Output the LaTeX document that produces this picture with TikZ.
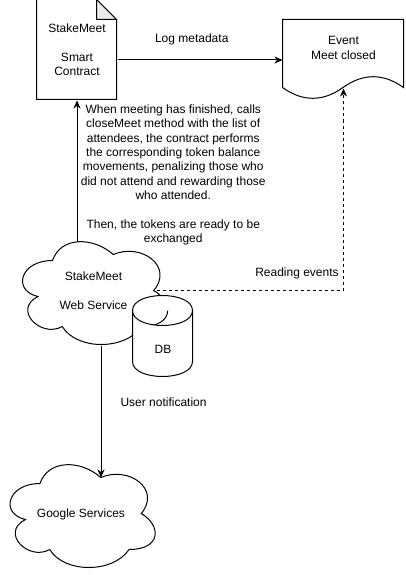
\documentclass[tikz,border=0pt]{standalone}
\usepackage{fontspec}
\setmainfont{Liberation Sans}
\usetikzlibrary{positioning,arrows.meta}

\begin{document}
\begin{tikzpicture}[x=1pt, y=-1pt, line width=1pt, >={Stealth[length=8pt,width=7pt,inset=2.5pt]},
        every node/.append style={font=\fontsize{12}{14.4}\selectfont}]
        \useasboundingbox (0,0) rectangle (405,575);

        % Nodes
        \node [minimum width=80pt, minimum height=100pt, align=center] (sc) at (77,50) {StakeMeet\\[14.4pt]Smart\\Contract};
        \node [minimum width=121pt, minimum height=80pt,
               label={[yshift=12pt, align=center]center:Event\\Meet closed}] (ev) at (343.5,60) {};
        \node [minimum width=162pt, minimum height=120pt, align=center] (ws) at (93.5,291) {StakeMeet\\[14.4pt]Web Service};
        \node [minimum width=162pt, minimum height=120pt] (gs) at (81,514) {Google Services};
        \node [minimum width=60pt, minimum height=81pt] (db) at (163,336.5) {};

        % Shapes
        \draw[shift={(sc.north west)}] (0,0) -- (60,0) -- (80,20) -- (80,100) -- (0,100) -- cycle;
        \draw[shift={(sc.north west)}, fill=black!8] (60,0) -- (60,20) -- (80,20) -- cycle;
        \draw[shift={(ev.north west)}] (0,0) -- (121,0) -- (121,68)
            .. controls (100.83,53.6) and (80.67,53.6) .. (60.5,68)
            .. controls (40.33,82.4) and (20.17,82.4) .. (0,68) -- cycle;
        \foreach \cl in {ws,gs}
            \draw[shift={(\cl.north west)}, xscale=162, yscale=120] (0.25,0.25)
                .. controls (0.05,0.25) and (0,0.5) .. (0.16,0.55)
                .. controls (0,0.66) and (0.18,0.9) .. (0.31,0.8)
                .. controls (0.4,1) and (0.7,1) .. (0.8,0.8)
                .. controls (1,0.8) and (1,0.6) .. (0.875,0.5)
                .. controls (1,0.3) and (0.8,0.1) .. (0.625,0.2)
                .. controls (0.5,0.05) and (0.3,0.05) .. (0.25,0.25) -- cycle;
        \draw[shift={(db.north west)}, fill=white] (0,15) .. controls (0,-5) and (60,-5) .. (60,15)
            -- (60,66) .. controls (60,86) and (0,86) .. (0,66) -- cycle
            (0,15) .. controls (0,35) and (60,35) .. (60,15);
        \node (dbl) at ([yshift=-12.5pt]db.center) {DB};

        % Arrows with labels
        \draw[->] ([yshift=-10pt]sc.east) -- node[pos=0.45, above=11pt] (logl) {Log metadata} (ev.west);
        \draw[->] ([xshift=-16.5pt, yshift=-11pt]ws.north) -- node[pos=0.472, right=0pt, align=center] (callsl)
            {When meeting has finished, calls\\closeMeet method with the list of\\attendees, the contract performs\\the corresponding token balance\\movements, penalizing those who\\did not attend and rewarding those\\who attended.\\[14.4pt]Then, the tokens are ready to be\\exchanged} (sc.south);
        \draw[->, dashed] ([xshift=-18pt, yshift=1pt]ws.east) -| node[pos=0.5, above left=7pt and 1pt] (readl) {Reading events} ([yshift=12pt]ev.south);
        \draw[->] ([xshift=7.5pt, yshift=6pt]ws.south) -- node[pos=0.43, right=15.7pt] (notifl) {User notification} ([xshift=20pt, yshift=-24pt]gs.north);
    \end{tikzpicture}
\end{document}
